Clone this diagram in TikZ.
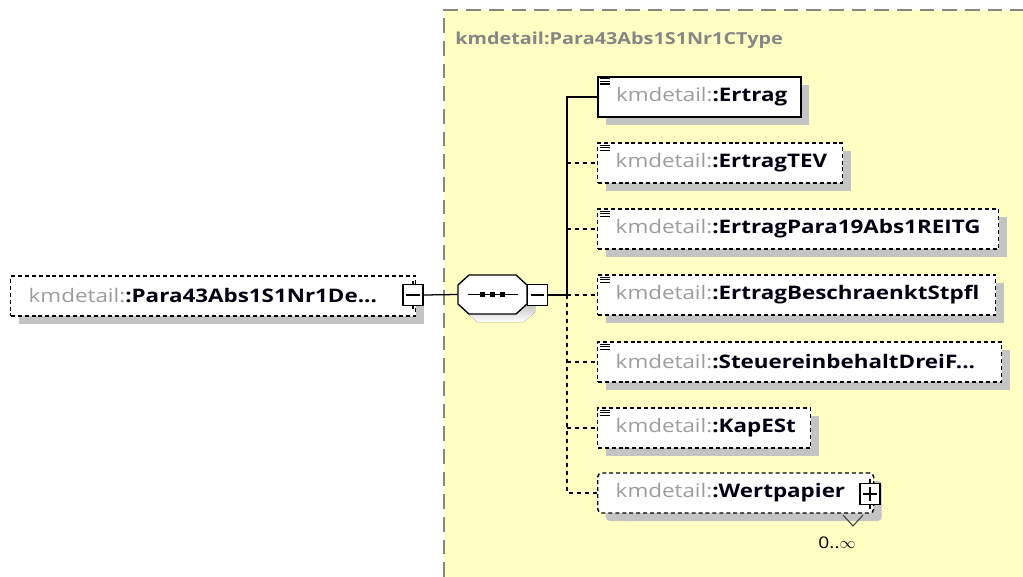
\documentclass[tikz,border=0pt]{standalone}
\usepackage{fontspec}
\setmainfont{Open Sans}[FakeStretch=1.2]
\usetikzlibrary{shadows,backgrounds}

\definecolor{typefill}{HTML}{FFFFC4}
\definecolor{framegray}{HTML}{868686}
\definecolor{nsgray}{HTML}{9C9C9C}
\definecolor{shade}{HTML}{C4C4C4}
\definecolor{ink}{HTML}{000010}

% element label: grey namespace prefix, bold local name
\newcommand\elname[1]{{\color{nsgray}kmdetail:}{\color{ink}\bfseries :#1}}

\tikzset{
  elembox/.style={draw=black, fill=white, line width=1.1pt,
    minimum height=30pt, inner xsep=13.5pt, inner ysep=0pt,
    anchor=west, align=left,
    font=\fontsize{14}{16}\selectfont,
    drop shadow={shadow xshift=6pt, shadow yshift=-6pt, fill=shade, opacity=1}},
  optional/.style={dash pattern=on 3pt off 2.2pt},
  ctrlbox/.style={draw=black, fill=white, line width=1pt,
    minimum width=15pt, minimum height=15.5pt, inner sep=0pt},
  link/.style={draw=black, line width=0.95pt},
  optlink/.style={link, dash pattern=on 3pt off 3pt},
}

% three-line "simple content" mark in the top-left corner of an element
\newcommand\contentmark[1]{%
  \foreach \dy in {2.2pt,4.1pt,6pt}
    \draw[line width=0.8pt] ([shift={(2.6pt,-\dy)}]#1.north west) -- ++(7.5pt,0pt);}

\begin{document}
\begin{tikzpicture}[x=0.75pt,y=-0.75pt]
\useasboundingbox (0,0) rectangle (1023,577);
\fill[white] (0,0) rectangle (1023,577);

% complex type region
\fill[typefill] (444,10) rectangle (1023,577);
\draw[framegray, line width=1pt, dash pattern=on 11pt off 6pt] (444,577) -- (444,10) -- (1023,10);
\node[anchor=west, text=framegray, inner sep=0pt,
      font=\bfseries\fontsize{12.4}{15}\selectfont] (typename) at (455,40)
      {kmdetail:Para43Abs1S1Nr1CType};

% root element
\node[elembox, optional, text width=276.75pt] (root) at (10,296)
  {\elname{Para43Abs1S1Nr1De...}};
\node[ctrlbox] (rootminus) at (413,295) {};
\draw[line width=1pt] ([xshift=3pt]rootminus.west) -- ([xshift=-3pt]rootminus.east);
\draw[line width=1pt] (rootminus.north) -- ++(0pt,2.5pt);
\draw[line width=1pt] (rootminus.south) -- ++(0pt,-2.5pt);

% sequence compositor: octagon with shadow around an anchor node
\node[minimum width=51.75pt, minimum height=29.25pt, inner sep=0pt] (seq) at (492.5,294.5) {};
\fill[shade] (477,283) -- (524,283) -- (535,293) -- (535,312) -- (524,322) -- (477,322)
  -- (466,312) -- (466,293) -- cycle;
\filldraw[fill=white, draw=black, line width=1pt]
  (469,275) -- (516,275) -- (527,285) -- (527,304) -- (516,314) -- (469,314)
  -- (458,304) -- (458,285) -- cycle;
\draw[line width=1pt] ([xshift=-18.75pt]seq.center) -- ([xshift=18.75pt]seq.center);
\foreach \dx in {-7.5pt,0pt,7.5pt}
  \fill ([xshift=\dx]seq.center) +(-2pt,-2pt) rectangle +(2pt,2pt);
\node[ctrlbox] (seqminus) at (537.5,295) {};
\draw[line width=1pt] ([xshift=3pt]seqminus.west) -- ([xshift=-3pt]seqminus.east);
\coordinate (trunk) at (567,295);

% child elements
\node[elembox, line width=1.5pt, text width=125.25pt] (ertrag) at (597,97) {\elname{Ertrag}};
\node[elembox, optional, text width=156.75pt] (tev) at (597,163) {\elname{ErtragTEV}};
\node[elembox, optional, text width=273.75pt] (reitg) at (597,229) {\elname{ErtragPara19Abs1REITG}};
\node[elembox, optional, text width=271.5pt] (stpfl) at (597,295) {\elname{ErtragBeschraenktStpfl}};
\node[elembox, optional, text width=276pt] (dreif) at (597,362) {\elname{SteuereinbehaltDreiF...}};
\node[elembox, optional, text width=132.75pt] (kapest) at (597,428) {\elname{KapESt}};
\foreach \n in {ertrag,tev,reitg,stpfl,dreif,kapest} {\contentmark{\n}}

% repeated complex element: stacked outline behind the front box
\begin{scope}[on background layer]
  \fill[shade] (609,485) rectangle (884,527);
  \draw[optional, line width=1.1pt, fill=white, rounded corners=3pt] (602,478) rectangle (877,519);
\end{scope}
\node[elembox, optional, rounded corners=3pt, drop shadow={opacity=0}, text width=180pt] (wert) at (597,493) {\elname{Wertpapier}};
\node[ctrlbox] (wertplus) at (870,494) {};
\draw[line width=1pt] ([xshift=3pt]wertplus.west) -- ([xshift=-3pt]wertplus.east);
\draw[line width=1pt] ([yshift=3pt]wertplus.south) -- ([yshift=-3pt]wertplus.north);
\draw[line width=1pt] (wertplus.north) -- ++(0pt,3pt);
\draw[line width=1pt] (wertplus.south) -- ++(0pt,-3pt);
\coordinate (vl) at (843,515);
\coordinate (vm) at (853,526);
\coordinate (vr) at (863,515);
\draw[line width=0.8pt, black!75] (vl) -- (vm) -- (vr);
\node[font=\fontsize{12}{13}\selectfont, inner sep=0pt] (occurs) at (837,543) {0..$\infty$};

% connectors
\draw[link] (rootminus.east) -- (seq.west);
\draw[link] (seqminus.east) -- (trunk);
\draw[link] (trunk) |- (ertrag.west);
\draw[optlink] (trunk) |- (wert.west);
\foreach \n in {tev,reitg,stpfl,dreif,kapest}
  \draw[optlink] (trunk |- \n.west) -- (\n.west);
\end{tikzpicture}
\end{document}
